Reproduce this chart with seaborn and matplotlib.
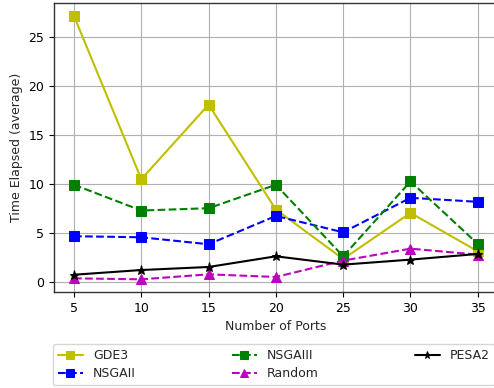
import matplotlib
matplotlib.use("Agg")
import matplotlib.pyplot as plt
import seaborn as sns
import pandas as pd

ports = [5, 10, 15, 20, 25, 30, 35]
gde3 = [27.17, 10.53, 18.14, 7.43, 2.39, 7.09, 3.17]
nsgaii = [4.71, 4.60, 3.89, 6.78, 5.11, 8.63, 8.22]
nsgaiii = [9.96, 7.33, 7.57, 9.96, 2.66, 10.30, 3.92]
random_ = [0.41, 0.31, 0.82, 0.55, 2.22, 3.44, 2.83]
pesa2 = [0.78, 1.26, 1.57, 2.66, 1.81, 2.32, 2.90]

series = [
    ("GDE3", gde3, "#bfbf00", "s", "-"),
    ("NSGAII", nsgaii, "blue", "s", "--"),
    ("NSGAIII", nsgaiii, "green", "s", "--"),
    ("Random", random_, "m", "^", "--"),
    ("PESA2", pesa2, "black", "*", "-"),
]

sns.set_style("ticks")
plt.rcParams['font.family'] = ['DejaVu Sans']

fig = plt.figure(figsize=(4.94, 3.88), dpi=100)
ax = fig.add_axes([0.109, 0.247, 0.899, 0.745])

for name, vals, color, marker, ls in series:
    df = pd.DataFrame({"x": ports, "y": vals})
    sns.lineplot(data=df, x="x", y="y", ax=ax, color=color, marker=marker,
                 linestyle=ls, markersize=6.5, markeredgecolor=color,
                 linewidth=1.5, label=name, legend=False)

ax.set_xticks(ports)
ax.set_yticks([0, 5, 10, 15, 20, 25])
ax.set_xlim(3.5, 36.5)
ax.set_ylim(-1.0, 28.5)
ax.grid(True, color="#b0b0b0", linewidth=0.8)
ax.set_axisbelow(True)
for s in ax.spines.values():
    s.set_color("#333333")
    s.set_linewidth(1.0)
ax.tick_params(labelsize=9, colors="black", length=3.5)
ax.set_xlabel("Number of Ports", fontsize=9)
ax.set_ylabel("Time Elapsed (average)", fontsize=9)

handles, labels = ax.get_legend_handles_labels()
fig.legend(handles, labels, loc="lower left", ncol=3, mode="expand",
           bbox_to_anchor=(0.107, 0.007, 0.895, 0.11), fontsize=9,
           frameon=True, fancybox=True, edgecolor="#cccccc", borderaxespad=0,
           handlelength=2.0, labelspacing=0.4, markerscale=0.85)

fig.savefig("out.png", dpi=100)
